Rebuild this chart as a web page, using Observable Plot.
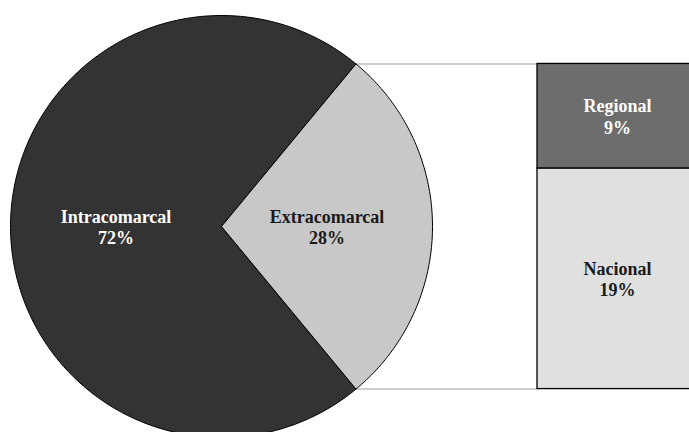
<!DOCTYPE html>
<html><head><meta charset="utf-8">
<script src="https://cdn.jsdelivr.net/npm/d3@7"></script>
<script src="https://cdn.jsdelivr.net/npm/@observablehq/plot@0.6"></script>
<style>body{margin:0;background:#fff}</style>
</head><body><div id="chart"></div>
<script>
// ---- data ----
const pieLabels = ["Intracomarcal", "Extracomarcal"];
const pieValues = [72, 28];
const pieColors = ["#333333", "#c8c8c8"];
const pieTextColors = ["#ffffff", "#1a1a1a"];
const barLabels = ["Nacional", "Regional"];
const barValues = [19, 9];
const barColors = ["#e0e0e0", "#6d6d6d"];
const barTextColors = ["#1a1a1a", "#f4f4f4"];

// ---- layout (pixels) ----
const W = 689, H = 432;
const cx = 221, cy = 226, R = 211;
const xDomain = [-cx / R, (W - cx) / R];
const yDomain = [-(H - cy) / R, cy / R];
const barX1 = (537 - cx) / R, barX2 = (697 - cx) / R;

// ---- derived geometry (unit circle, CCW from east) ----
const total = d3.sum(pieValues);
const expAngle = pieValues[1] / total * 2 * Math.PI; // exploded slice centred on east
let start = expAngle / 2;
const slicePts = [];
const pieText = [];
pieLabels.forEach((label, i) => {
  const span = pieValues[i] / total * 2 * Math.PI;
  const a0 = start, a1 = start + span;
  const n = Math.max(8, Math.round(span * 60));
  slicePts.push({label, x: 0, y: 0});
  for (let k = 0; k <= n; k++) {
    const a = a0 + (a1 - a0) * k / n;
    slicePts.push({label, x: Math.cos(a), y: Math.sin(a)});
  }
  slicePts.push({label, x: 0, y: 0});
  const mid = (a0 + a1) / 2;
  pieText.push({text: `${label}\n${pieValues[i]}%`, x: 0.5 * Math.cos(mid), y: 0.5 * Math.sin(mid), color: pieTextColors[i]});
  start = a1;
});

const h = Math.sin(expAngle / 2);
const edgeX = Math.cos(expAngle / 2);
const k = 2 * h / d3.sum(barValues);
let cum = 0;
const barData = barLabels.map((label, i) => {
  const y1 = -h + cum * k; cum += barValues[i];
  const y2 = -h + cum * k;
  return {label, value: barValues[i], y1, y2};
});
const barText = barData.map((d, i) => ({text: `${d.label}\n${d.value}%`, x: (barX1 + barX2) / 2, y: (d.y1 + d.y2) / 2, color: barTextColors[i]}));
const connectors = [{x1: edgeX, y1: h, x2: barX1, y2: h}, {x1: edgeX, y1: -h, x2: barX1, y2: -h}];
const allText = pieText.concat(barText);

const font = {fontFamily: "Liberation Serif", fontWeight: "bold", fontSize: 18, lineHeight: 1.2};

const chart = Plot.plot({
  width: W, height: H, margin: 0,
  x: {domain: xDomain, axis: null},
  y: {domain: yDomain, axis: null},
  color: {domain: pieLabels.concat(barLabels), range: pieColors.concat(barColors)},
  marks: [
    Plot.link(connectors, {x1: "x1", y1: "y1", x2: "x2", y2: "y2", stroke: "#bdbdbd", strokeWidth: 1.5}),
    Plot.line(slicePts, {x: "x", y: "y", z: "label", fill: "label", stroke: "#000", strokeWidth: 1, strokeLinejoin: "round"}),
    Plot.rect(barData, {x1: () => barX1, x2: () => barX2, y1: "y1", y2: "y2", fill: "label", stroke: "#000", strokeWidth: 1.3}),
    Plot.text(allText.filter(d => d.color === "#ffffff" || d.color === "#f4f4f4"), {x: "x", y: "y", text: "text", fill: "#ffffff", ...font}),
    Plot.text(allText.filter(d => d.color === "#1a1a1a"), {x: "x", y: "y", text: "text", fill: "#1a1a1a", ...font})
  ]
});
document.getElementById("chart").appendChild(chart);
</script>
</body></html>
